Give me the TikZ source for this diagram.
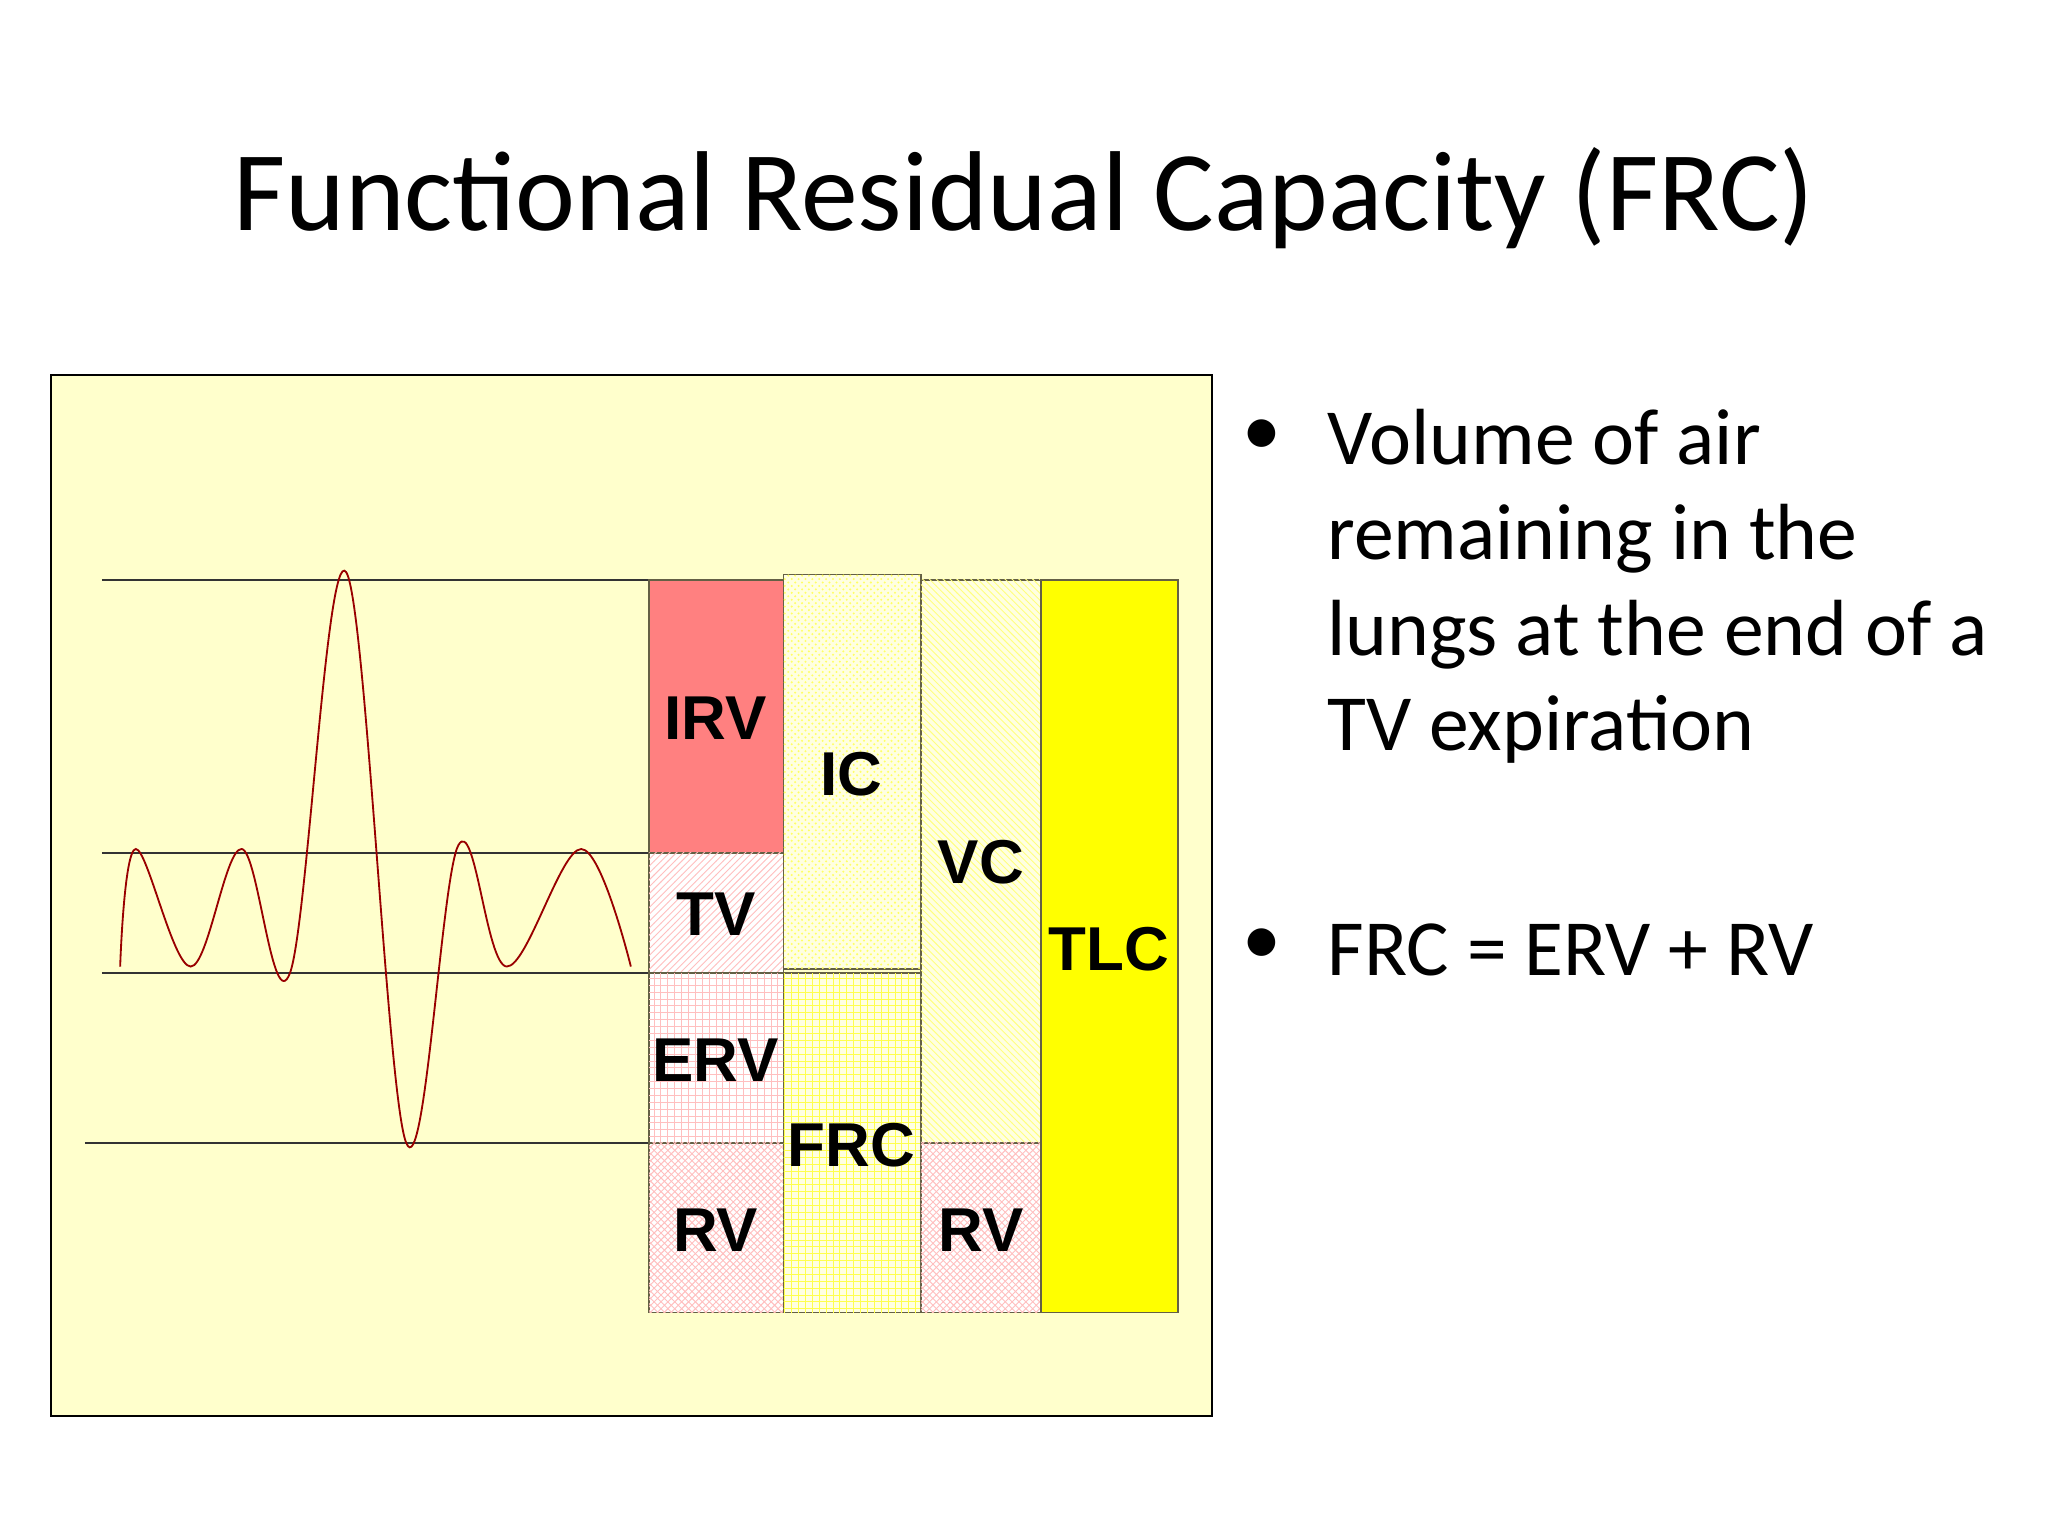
\documentclass[tikz,border=0pt]{standalone}
\usepackage{fontspec}
\setmainfont{Carlito}
\newfontfamily\lab{Liberation Sans}
\usetikzlibrary{patterns}
\begin{document}
\begin{tikzpicture}[x=0.02cm,y=-0.02cm,
  colbox/.style={draw=black!70!yellow, line width=0.6pt},
  pat/.style 2 args={postaction={pattern=#1, pattern color=#2}},
  lbl/.style={font=\lab\bfseries\fontsize{27}{27}\selectfont},
  hl/.style={draw=black!80, line width=0.7pt}]
\useasboundingbox (0,0) rectangle (1568,1176);
\node (title) at (784,152) {\fontsize{49.5}{60}\selectfont Functional Residual Capacity (FRC)};
\draw[fill={rgb,255:red,255;green,255;blue,204}, line width=1pt] (39,287) rectangle (928,1084);
\draw[hl] (78,444) -- (497,444);
\draw[hl] (78,653) -- (497,653);
\draw[hl] (78,745) -- (497,745);
\draw[hl] (65,875) -- (497,875);
\draw[red!60!black, line width=0.8pt] plot[smooth, tension=0.6] coordinates {(92,740) (104,650) (146,740) (185,650) (222,745) (265,438) (311,875) (351,647) (388,740) (445,650) (483,740)};
% column 1
\draw[colbox, fill={rgb,255:red,255;green,128;blue,128}] (497,444) rectangle (600,653);
\draw[colbox, fill=white, pat={north east lines}{pink}] (497,653) rectangle (600,745);
\draw[colbox, fill=white, pat={grid}{pink}] (497,745) rectangle (600,875);
\draw[colbox, fill=white, pat={crosshatch}{pink}] (497,875) rectangle (600,1005);
% column 2
\draw[colbox, fill={rgb,255:red,255;green,255;blue,225}, pat={crosshatch dots}{yellow!60}] (600,440) rectangle (705,742);
\draw[colbox, fill={rgb,255:red,255;green,255;blue,225}, pat={grid}{yellow!70}] (600,745) rectangle (705,1005);
% column 3
\draw[colbox, fill={rgb,255:red,255;green,255;blue,225}, pat={north west lines}{yellow!50}] (705,444) rectangle (797,875);
\draw[colbox, fill=white, pat={crosshatch}{pink}] (705,875) rectangle (797,1005);
% column 4
\draw[colbox, fill={rgb,255:red,255;green,255;blue,0}] (797,444) rectangle (902,1005);
\node[lbl] (irv) at (548,550) {IRV};
\node[lbl] (tv) at (548,700) {TV};
\node[lbl] (erv) at (548,812) {ERV};
\node[lbl] (rv1) at (548,942) {RV};
\node[lbl] (ic) at (652,593) {IC};
\node[lbl] (frc) at (652,877) {FRC};
\node[lbl] (vc) at (751,660) {VC};
\node[lbl] (rv2) at (751,942) {RV};
\node[lbl] (tlc) at (849,727) {TLC};
\node (b1) at (966,335) {\fontsize{34}{36}\selectfont •};
\node[anchor=north west, align=left, inner sep=0pt, font=\fontsize{34.7}{41.5}\selectfont] (t1) at (1016,313) {Volume of air\\remaining in the\\lungs at the end of a\\TV expiration};
\node (b2) at (966,725) {\fontsize{34}{36}\selectfont •};
\node[anchor=west, inner sep=0pt, font=\fontsize{34.7}{36}\selectfont] (t2) at (1016,727) {FRC = ERV + RV};
\end{tikzpicture}
\end{document}
